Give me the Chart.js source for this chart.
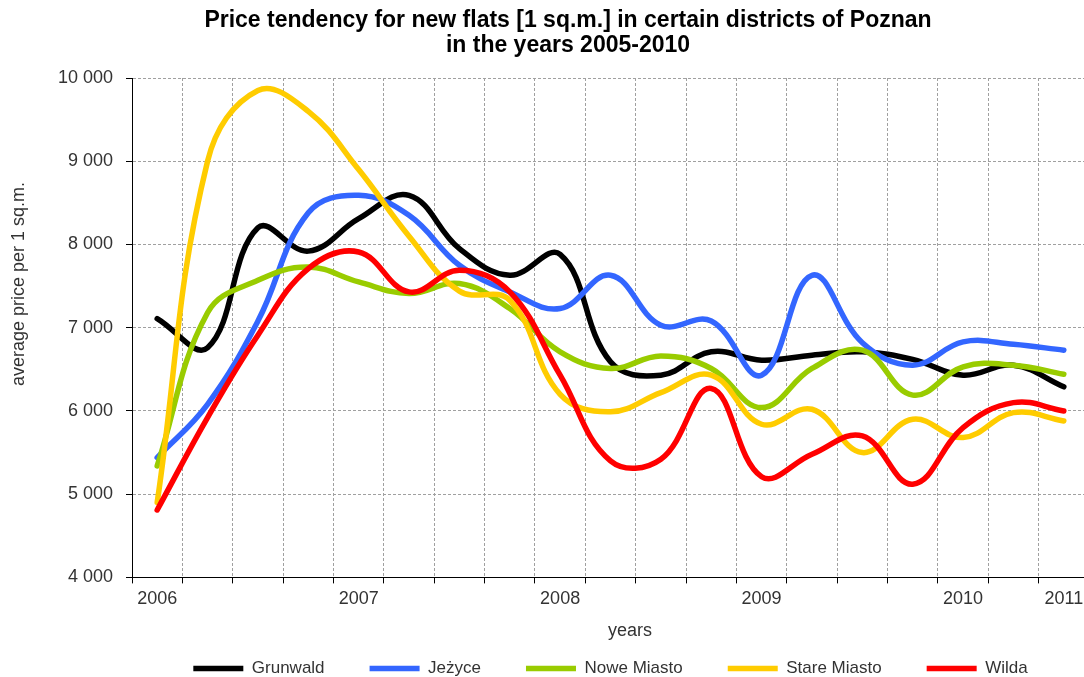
<!DOCTYPE html>
<html>
<head>
<meta charset="utf-8">
<title>Price tendency for new flats - Poznan</title>
<script src="https://cdn.jsdelivr.net/npm/chart.js@4.4.0/dist/chart.umd.min.js"></script>
<style>
	html, body { margin: 0; padding: 0; background: #fff; overflow: hidden; }
	#priceChart { display: block; }
</style>
</head>
<body>
<canvas id="priceChart" width="1136" height="677"></canvas>
<script>
// quarterly readings, only the year ticks get a label
const categories = ['2006', '', '', '', '2007', '', '', '', '2008', '', '', '', '2009', '', '', '', '2010', '', '2011'];
const yTicks = [4000, 5000, 6000, 7000, 8000, 9000, 10000];

const grunwald = [7110, 6760, 8200, 7920, 8310, 8590, 7950, 7630, 7880, 6590, 6430, 6710, 6610, 6670, 6710, 6620, 6430, 6550, 6290];
const jezyce = [5440, 6080, 7080, 8380, 8590, 8350, 7750, 7430, 7230, 7630, 7030, 7080, 6430, 7630, 6820, 6550, 6830, 6800, 6730];
const noweMiasto = [5340, 7180, 7570, 7730, 7550, 7410, 7530, 7230, 6710, 6510, 6660, 6510, 6040, 6510, 6730, 6190, 6530, 6550, 6440];
const stareMiasto = [4900, 9000, 9850, 9600, 8900, 8100, 7440, 7330, 6200, 5990, 6220, 6430, 5840, 6020, 5500, 5900, 5680, 5980, 5880];
const wilda = [4810, 5920, 6910, 7710, 7910, 7430, 7690, 7430, 6430, 5400, 5420, 6270, 5210, 5480, 5700, 5120, 5800, 6100, 6000];

const seriesNames = ['Grunwald', 'Jeżyce', 'Nowe Miasto', 'Stare Miasto', 'Wilda'];
const seriesValues = [grunwald, jezyce, noweMiasto, stareMiasto, wilda];
const seriesColors = ['#000000', '#3366FF', '#99CC00', '#FFCC00', '#FF0000'];

const textColor = '#333333';
const gridColor = '#A0A0A0';
const fmt = (v) => String(v).replace(/\B(?=(\d{3})+(?!\d))/g, ' ');

Chart.defaults.font.family = '"Liberation Sans", Arial, sans-serif';

// axis titles are placed by hand, Excel did not center them on the axes
const axisTitles = {
	id: 'axisTitles',
	afterDraw(chart) {
		const { ctx, chartArea } = chart;
		ctx.save();
		ctx.fillStyle = textColor;
		ctx.font = '18px "Liberation Sans", Arial, sans-serif';
		ctx.textAlign = 'center';
		ctx.textBaseline = 'middle';
		ctx.fillText('years', chartArea.left + 498, chartArea.bottom + 54);
		ctx.translate(19, chartArea.top + 206);
		ctx.rotate(-Math.PI / 2);
		ctx.fillText('average price per 1 sq.m.', 0, 0);
		ctx.restore();
	}
};

const ctx = document.getElementById('priceChart').getContext('2d');
new Chart(ctx, {
	type: 'line',
	data: {
		labels: categories,
		datasets: seriesNames.map((name, i) => ({
			label: name,
			data: seriesValues[i],
			borderColor: seriesColors[i],
			backgroundColor: seriesColors[i],
			order: seriesNames.length - i,
		})),
	},
	options: {
		responsive: false,
		animation: false,
		layout: { padding: { left: 47, right: 47 } },
		elements: {
			line: { borderWidth: 5.5, tension: 0.4, borderCapStyle: 'round', borderJoinStyle: 'round' },
			// legend samples take their stroke from the point options
			point: { radius: 0, borderWidth: 5.5 },
		},
		plugins: {
			title: {
				display: true,
				text: ['Price tendency for new flats [1 sq.m.] in certain districts of Poznan', 'in the years 2005-2010'],
				color: '#000',
				font: { size: 23, weight: 'bold', lineHeight: 1.1 },
				padding: { top: 8, bottom: 19.4 },
			},
			legend: {
				position: 'bottom',
				fullSize: false,
				maxHeight: 62,
				labels: {
					usePointStyle: true,
					pointStyle: 'line',
					pointStyleWidth: 50,
					boxHeight: 5,
					padding: 45,
					color: textColor,
					font: { size: 17 },
					sort: (a, b) => a.datasetIndex - b.datasetIndex,
				},
			},
			tooltip: { enabled: false },
		},
		scales: {
			x: {
				offset: true,
				grid: {
					offset: true,
					color: (c) => (c.index === 0 ? 'rgba(0,0,0,0)' : gridColor),
					tickColor: '#000',
					tickLength: 6,
				},
				border: { color: '#000', dash: [3, 2] },
				ticks: { autoSkip: false, maxRotation: 0, padding: 5, color: textColor, font: { size: 18 } },
			},
			y: {
				min: yTicks[0],
				max: yTicks[yTicks.length - 1],
				afterBuildTicks: (s) => { s.ticks = yTicks.map((v) => ({ value: v })); },
				afterFit: (s) => { s.width = 85; },
				grid: {
					color: (c) => (c.tick && c.tick.value === yTicks[0] ? 'rgba(0,0,0,0)' : gridColor),
					tickColor: '#000',
					tickLength: 6,
				},
				border: { color: '#000', dash: [3, 2] },
				ticks: { padding: 13, color: textColor, font: { size: 18 }, callback: fmt },
			},
		},
	},
	plugins: [axisTitles],
});
</script>
</body>
</html>
